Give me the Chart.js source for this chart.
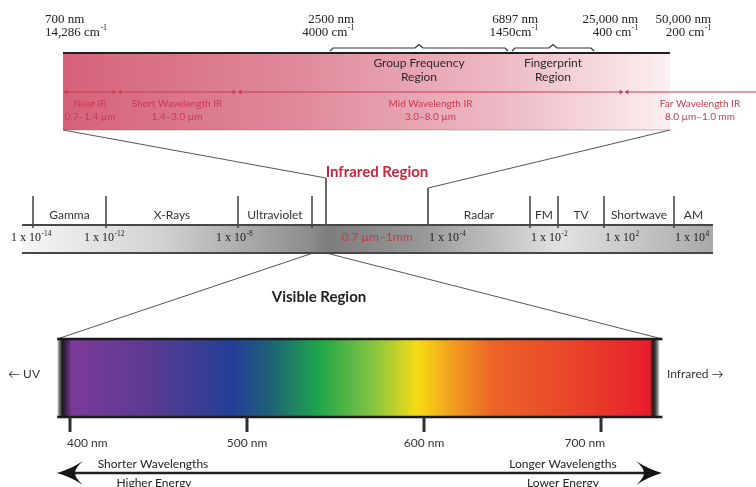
<!DOCTYPE html>
<html lang="en">
<head>
<meta charset="UTF-8" />
<title>Electromagnetic Spectrum</title>
<script src="https://cdn.jsdelivr.net/npm/chart.js"></script>
<style>
  html, body { margin: 0; padding: 0; background: #fff; }
  #wrap { width: 756px; height: 487px; position: relative; }
</style>
</head>
<body>
<div id="wrap"><canvas id="spectrum"></canvas></div>
<script>
// ---------- data ----------
// infrared detail strip (values on the strip axis that runs across the figure)
const irWavelengthLabels = ['700 nm', '2500 nm', '6897 nm', '25,000 nm', '50,000 nm'];
const irWavenumberLabels = ['14,286 cm', '4000 cm', '1450cm', '400 cm', '200 cm'];
const irBandNames = ['Near IR', 'Short Wavelength IR', 'Mid Wavelength IR', 'Far Wavelength IR'];
const irBandRanges = ['0.7–1.4 µm', '1.4–3.0 µm', '3.0–8.0 µm', '8.0 µm–1.0 mm'];
const irBandEdges = [63, 117, 237, 624, 776];
const irRegionNames = ['Group Frequency', 'Fingerprint'];
const irRegionEdges = [[330, 508], [512, 594]];
const irStrip = [63, 670];

// full electromagnetic spectrum strip
const emBandNames = ['Gamma', 'X-Rays', 'Ultraviolet', '', '', 'Radar', 'FM', 'TV', 'Shortwave', 'AM'];
const emEdges = [33, 106, 238, 312, 326, 428, 530, 558, 604, 674, 713];
const emTickExp = ['-14', '-12', '-8', '-4', '-2', '2', '4'];
const emTickEdge = [33, 106, 238, 428, 530, 604, 674];
const emStrip = [22, 713];
const irSpanLabel = '0.7 µm–1mm';

// visible strip, in nm
const visTicks = [400, 500, 600, 700];
const visRange = [393, 733];
const visStopNm = [393, 395.5, 397.5, 401, 445, 492, 512, 541, 573, 596, 615, 638, 690, 727.5, 729.5, 731, 733];

// ---------- styles / layout ----------
const W = 756, H = 487;
const NM_MIN = 360.45, NM_MAX = 787.57;
const rows = { top1: 20, top2: 33, brace: 48, irTop: 53, irBottom: 130, region1: 63, region2: 77,
  irArrow: 92, band1: 104, band2: 117, irTitle: 172, bendL: 178, bendR: 188,
  divTop: 196, divBottom: 228, emLabel: 215, emTop: 225, emBottom: 253, emTick: 238,
  visTitle: 297, visTop: 339, visBottom: 417, visTick: 15, visLabel: 443, side: 374,
  arrow: 473, arrowTxt1: 464, arrowTxt2: 483 };
const irLabelAnchor = [45, 354, 538, 638, 711];
const irLabelAlign = ['left', 'right', 'right', 'right', 'right'];
const emTickAnchor = ['ten', 'ten', 'ten', 'start', 'start', 'start', 'start'];
const irShadeAt = [63, 300, 500, 670];
const irShade = ['#d6627a', '#e08a9b', '#edb9c3', '#fcf0f2'];
const emShadeAt = [22, 160, 312, 326, 420, 560, 713];
const emShade = ['#f6f6f6', '#d2d2d2', '#8c8c8c', '#7d7d7d', '#979797', '#e2e2e2', '#a9a9a9'];
const visColor = ['#bdbdbd', '#1a1a1a', '#3a1f48', '#7b3b98', '#5b3a92', '#233f96', '#1f5f78', '#1ea64a',
  '#8cc63f', '#f6dc16', '#f3a11e', '#ec6428', '#e9402a', '#e81d2a', '#1c1c1c', '#4a4a4a', '#d8d8d8'];
const RED = '#c93a50';
const SANS = 'Lato, "Open Sans", sans-serif';
const SERIF = '"Liberation Serif", serif';

// ---------- helpers ----------
function shade(axisId, at, colors) {
  return (c) => {
    const chart = c.chart, s = chart.scales[axisId];
    if (!s || !chart.chartArea) return colors[0];
    const x0 = s.getPixelForValue(at[0]), x1 = s.getPixelForValue(at[at.length - 1]);
    const g = chart.ctx.createLinearGradient(x0, 0, x1, 0);
    at.forEach((v, i) => g.addColorStop(Math.min(1, Math.max(0, (s.getPixelForValue(v) - x0) / (x1 - x0))), colors[i]));
    return g;
  };
}
function line(pts, color, width, extra) {
  return Object.assign({ type: 'line', data: pts, borderColor: color, borderWidth: width, pointRadius: 0,
    fill: false, tension: 0, xAxisID: 'x', yAxisID: 'y', order: 0, clip: false }, extra || {});
}
function bar(range, yMid, thick, fill, axisId) {
  return { type: 'bar', indexAxis: 'y', data: [{ x: range, y: yMid }], barThickness: thick, grouped: false,
    backgroundColor: fill, borderWidth: 0, inflateAmount: 0, xAxisID: axisId, yAxisID: 'y', order: 10 };
}

const arrowHead = (() => {
  const c = document.createElement('canvas');
  c.width = 26; c.height = 24;
  const g = c.getContext('2d');
  g.fillStyle = '#151515';
  g.beginPath();
  g.moveTo(26, 12);
  g.quadraticCurveTo(12, 8, 0, 0);
  g.quadraticCurveTo(8, 7, 8, 12);
  g.quadraticCurveTo(8, 17, 0, 24);
  g.quadraticCurveTo(12, 16, 26, 12);
  g.fill();
  return c;
})();

// rainbow squeezed into the visible slot of the EM strip
const slotAt = visStopNm.slice(3, 14).map(nm => emEdges[3] + (nm - visStopNm[3]) / (visStopNm[13] - visStopNm[3]) * (emEdges[4] - emEdges[3]));
const slotColor = visColor.slice(3, 14);

// ---------- datasets ----------
const datasets = [];
// strips
datasets.push(bar(irStrip, (rows.irTop + rows.irBottom) / 2, rows.irBottom - rows.irTop, shade('x', irShadeAt, irShade), 'x'));
datasets.push(bar(emStrip, (rows.emTop + rows.emBottom) / 2, rows.emBottom - rows.emTop, shade('x', emShadeAt, emShade), 'x'));
datasets.push(bar([emEdges[3], emEdges[4]], (rows.emTop + rows.emBottom) / 2, rows.emBottom - rows.emTop - 1, shade('x', slotAt, slotColor), 'x'));
datasets.push(bar(visRange, (rows.visTop + rows.visBottom) / 2, rows.visBottom - rows.visTop, shade('nm', visStopNm, visColor), 'nm'));

// IR strip edges
datasets.push(line([{ x: irStrip[0], y: rows.irTop }, { x: irStrip[1], y: rows.irTop }], '#1f1f1f', 2));
datasets.push(line([{ x: irStrip[0], y: rows.irBottom }, { x: irStrip[1], y: rows.irBottom }], 'rgba(110,110,110,0.45)', 1));
// IR band arrows
irBandNames.forEach((n, i) => {
  datasets.push(line([{ x: irBandEdges[i] + 3, y: rows.irArrow }, { x: irBandEdges[i + 1] - 3, y: rows.irArrow }], RED, 1,
    { pointRadius: 2.6, pointStyle: 'triangle', pointRotation: [-90, 90], pointBackgroundColor: RED, pointBorderWidth: 0 }));
});
// braces over the group frequency / fingerprint regions
irRegionEdges.forEach(([a, b]) => {
  const m = (a + b) / 2, yb = rows.brace;
  datasets.push(line([{ x: a, y: yb + 3 }, { x: a + 3, y: yb }, { x: m - 4, y: yb }, { x: m, y: yb - 3.5 },
    { x: m + 4, y: yb }, { x: b - 3, y: yb }, { x: b, y: yb + 3 }], '#333', 1.2));
});
// connectors IR strip -> EM strip
datasets.push(line([{ x: irStrip[0], y: rows.irBottom }, { x: emEdges[4], y: rows.bendL }, { x: emEdges[4], y: rows.emTop }], '#555', 1));
datasets.push(line([{ x: irStrip[1], y: rows.irBottom }, { x: emEdges[5], y: rows.bendR }, { x: emEdges[5], y: rows.emTop }], '#555', 1));
// EM strip edges and dividers
datasets.push(line([{ x: emStrip[0], y: rows.emTop }, { x: emStrip[1], y: rows.emTop }], '#474747', 2));
datasets.push(line([{ x: emStrip[0], y: rows.emBottom }, { x: emStrip[1], y: rows.emBottom }], '#474747', 2));
const dividers = [];
emEdges.slice(0, -1).forEach(e => {
  if (e === emEdges[4] || e === emEdges[5]) return;
  dividers.push({ x: e, y: rows.divTop }, { x: e, y: rows.divBottom }, { x: e, y: null });
});
datasets.push(line(dividers, '#333', 1.4, { spanGaps: false }));
// visible strip edges (nm)
datasets.push(line([{ x: visRange[0] - 0.3, y: rows.visTop }, { x: visRange[1] + 1.7, y: rows.visTop }], '#1a1a1a', 2.5, { xAxisID: 'nm' }));
datasets.push(line([{ x: visRange[0] - 0.3, y: rows.visBottom }, { x: visRange[1] + 1.7, y: rows.visBottom }], '#1a1a1a', 2.5, { xAxisID: 'nm' }));
// wavelength / energy arrow
datasets.push(line([{ x: 70, y: rows.arrow }, { x: 649, y: rows.arrow }], '#222', 2.5,
  { pointRadius: 12, pointStyle: arrowHead, pointRotation: [180, 0] }));

// ---------- text ----------
function txt(ctx, s, x, y, font, color, align) {
  ctx.font = font; ctx.fillStyle = color; ctx.textAlign = align || 'center'; ctx.textBaseline = 'middle';
  ctx.fillText(s, x, y);
}
function supTxt(ctx, base, sup, x, y, size, color, align) {
  ctx.font = size + 'px ' + SERIF; const wb = ctx.measureText(base).width;
  ctx.font = (size * 0.62) + 'px ' + SERIF; const ws = ctx.measureText(sup).width;
  const x0 = align === 'right' ? x - wb - ws : align === 'center' ? x - (wb + ws) / 2 : x;
  txt(ctx, base, x0, y, size + 'px ' + SERIF, color, 'left');
  txt(ctx, sup, x0 + wb + 0.5, y - size * 0.36, (size * 0.62) + 'px ' + SERIF, color, 'left');
}

const labelsPlugin = {
  id: 'spectrumLabels',
  beforeDatasetsDraw(chart) {
    const { ctx, scales: { x, y, nm } } = chart;
    ctx.save();
    ctx.strokeStyle = '#555'; ctx.lineWidth = 1;
    ctx.beginPath();
    ctx.moveTo(x.getPixelForValue(emEdges[3] + 1), y.getPixelForValue(rows.emBottom));
    ctx.lineTo(nm.getPixelForValue(visRange[0] - 0.3), y.getPixelForValue(rows.visTop));
    ctx.moveTo(x.getPixelForValue(emEdges[4]), y.getPixelForValue(rows.emBottom));
    ctx.lineTo(nm.getPixelForValue(visRange[1] + 1.7), y.getPixelForValue(rows.visTop));
    ctx.stroke();
    ctx.restore();
  },
  afterDatasetsDraw(chart) {
    const { ctx, scales: { x, y, nm } } = chart;
    const X = v => x.getPixelForValue(v), Y = v => y.getPixelForValue(v);
    ctx.save();
    // IR wavelength / wavenumber marks
    irWavelengthLabels.forEach((s, i) => {
      txt(ctx, s, X(irLabelAnchor[i]), Y(rows.top1), '13px ' + SERIF, '#222', irLabelAlign[i]);
      supTxt(ctx, irWavenumberLabels[i], '-1', X(irLabelAnchor[i]), Y(rows.top2), 13, '#222', irLabelAlign[i]);
    });
    irRegionNames.forEach((s, i) => {
      const m = X((irRegionEdges[i][0] + irRegionEdges[i][1]) / 2);
      txt(ctx, s, m, Y(rows.region1), '12px ' + SANS, '#2a2a2a');
      txt(ctx, 'Region', m, Y(rows.region2), '12px ' + SANS, '#2a2a2a');
    });
    irBandNames.forEach((s, i) => {
      const m = X((irBandEdges[i] + irBandEdges[i + 1]) / 2);
      txt(ctx, s, m, Y(rows.band1), '10px ' + SANS, RED);
      txt(ctx, irBandRanges[i], m, Y(rows.band2), '10px ' + SANS, RED);
    });
    txt(ctx, 'Infrared Region', X((emEdges[4] + emEdges[5]) / 2), Y(rows.irTitle), 'bold 15px ' + SANS, '#c0283c');
    // EM bands
    emBandNames.forEach((s, i) => {
      if (s) txt(ctx, s, X((emEdges[i] + emEdges[i + 1]) / 2), Y(rows.emLabel), '12px ' + SANS, '#333');
    });
    emTickExp.forEach((e, i) => {
      ctx.font = '12px ' + SERIF;
      const lead = ctx.measureText('1 x ').width;
      const start = emTickAnchor[i] === 'ten' ? X(emTickEdge[i]) - lead - 4 : X(emTickEdge[i]) + 1;
      supTxt(ctx, '1 x 10', e, start, Y(rows.emTick), 12, '#222', 'left');
    });
    txt(ctx, irSpanLabel, X((emEdges[4] + emEdges[5]) / 2), Y(rows.emTick - 1), '12px ' + SANS, '#c8354c');
    txt(ctx, 'Visible Region', X((emEdges[3] + emEdges[4]) / 2), Y(rows.visTitle), 'bold 15px ' + SANS, '#222');
    // visible wavelength ticks
    visTicks.forEach((v, i) => {
      const px = nm.getPixelForValue(v);
      ctx.strokeStyle = '#2e2e2e'; ctx.lineWidth = 3;
      ctx.beginPath();
      ctx.moveTo(px, Y(rows.visBottom));
      ctx.lineTo(px, Y(rows.visBottom) + rows.visTick);
      ctx.stroke();
      const align = i === 0 ? 'left' : i === visTicks.length - 1 ? 'right' : 'center';
      const off = i === 0 ? -3 : i === visTicks.length - 1 ? 4 : 0;
      txt(ctx, v + ' nm', px + off, Y(rows.visLabel), '12px ' + SANS, '#333', align);
    });
    txt(ctx, '← UV', X(8), Y(rows.side), '12px ' + SANS, '#333', 'left');
    txt(ctx, 'Infrared →', X(667), Y(rows.side), '12px ' + SANS, '#333', 'left');
    txt(ctx, 'Shorter Wavelengths', X(153), Y(rows.arrowTxt1), '12px ' + SANS, '#222');
    txt(ctx, 'Higher Energy', X(154), Y(rows.arrowTxt2), '12px ' + SANS, '#222');
    txt(ctx, 'Longer Wavelengths', X(563), Y(rows.arrowTxt1), '12px ' + SANS, '#222');
    txt(ctx, 'Lower Energy', X(563), Y(rows.arrowTxt2), '12px ' + SANS, '#222');
    ctx.restore();
  }
};

new Chart(document.getElementById('spectrum'), {
  type: 'scatter',
  data: { datasets },
  options: {
    responsive: true,
    maintainAspectRatio: false,
    animation: false,
    events: [],
    layout: { padding: 0, autoPadding: false },
    plugins: { legend: { display: false }, tooltip: { enabled: false } },
    scales: {
      x: { type: 'linear', min: 0, max: W, bounds: 'data', offset: false, display: false },
      y: { type: 'linear', min: 0, max: H, reverse: true, bounds: 'data', offset: false, display: false },
      nm: { type: 'linear', axis: 'x', min: NM_MIN, max: NM_MAX, bounds: 'data', offset: false, display: false,
        afterBuildTicks: s => { s.ticks = visTicks.map(v => ({ value: v })); } }
    }
  },
  plugins: [labelsPlugin]
});
</script>
</body>
</html>
